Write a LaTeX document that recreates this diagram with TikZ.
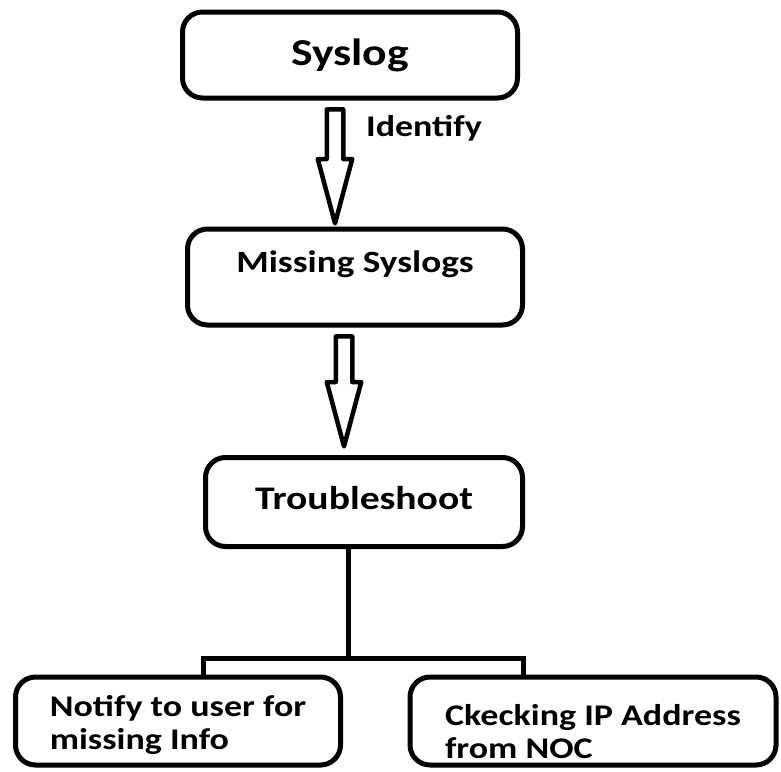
\documentclass[tikz,border=0pt]{standalone}
\usepackage{fontspec}
\setmainfont{Carlito}[FakeStretch=1.2]
\usetikzlibrary{shapes.arrows,calc,positioning}
\tikzset{box/.style={
            draw,
            rounded corners=20pt,
            line width=5pt,
            inner sep=0pt,
            font=\fontsize{30}{33}\selectfont\bfseries
        },
        leafbox/.style={
            box,
            align=left
        },
        hollow/.style={
            draw,
            single arrow,
            line width=4.5pt,
            line join=round,
            inner xsep=0pt,
            inner ysep=6pt,
            minimum width=1pt,
            single arrow head extend=9pt,
            single arrow tip angle=30,
            rotate=-90
        },
        link/.style={
            line width=5pt
        }
    }
\begin{document}
\begin{tikzpicture}[x=1pt,y=-1pt]
        \useasboundingbox (0,0) rectangle (781,771);
        % boxes
        \node[box,minimum width=335pt,minimum height=86pt,font=\fontsize{38}{44}\selectfont\bfseries] (syslog) at (350,55) {Syslog};
        \node[box,minimum width=335pt,minimum height=96pt,text depth=30pt,font=\fontsize{31}{34}\selectfont\bfseries] (missing) at (355,277) {Missing Syslogs};
        \node[box,minimum width=317pt,minimum height=89pt,text depth=8pt,font=\fontsize{33}{36}\selectfont\bfseries] (trouble) at (364,502) {Troubleshoot};
        \node[leafbox,minimum width=325pt,minimum height=88pt,text height=63pt] (notify) at (178,721) {Notify to user for\\missing Info};
        \node[leafbox,minimum width=366pt,minimum height=88pt,text height=75pt] (check) at (593,721) {Ckecking IP Address\\from NOC};
        % hollow arrows
        \node[hollow,minimum height=114pt] (arrA) at (335,151) {};
        \node[hollow,minimum height=110pt] (arrB) at (344,376) {};
        \node[font=\fontsize{30}{33}\selectfont\bfseries] (identify) at (424,128) {Identify};
        % split
        \coordinate (split) at (348,658);
        \coordinate (jl) at (203,658);
        \coordinate (jr) at (523,658);
        \draw[link] (split |- trouble.south) -- (split);
        \draw[link] (jl |- notify.north) -- (jl) -- (jr) -- (jr |- check.north);
\end{tikzpicture}
\end{document}
